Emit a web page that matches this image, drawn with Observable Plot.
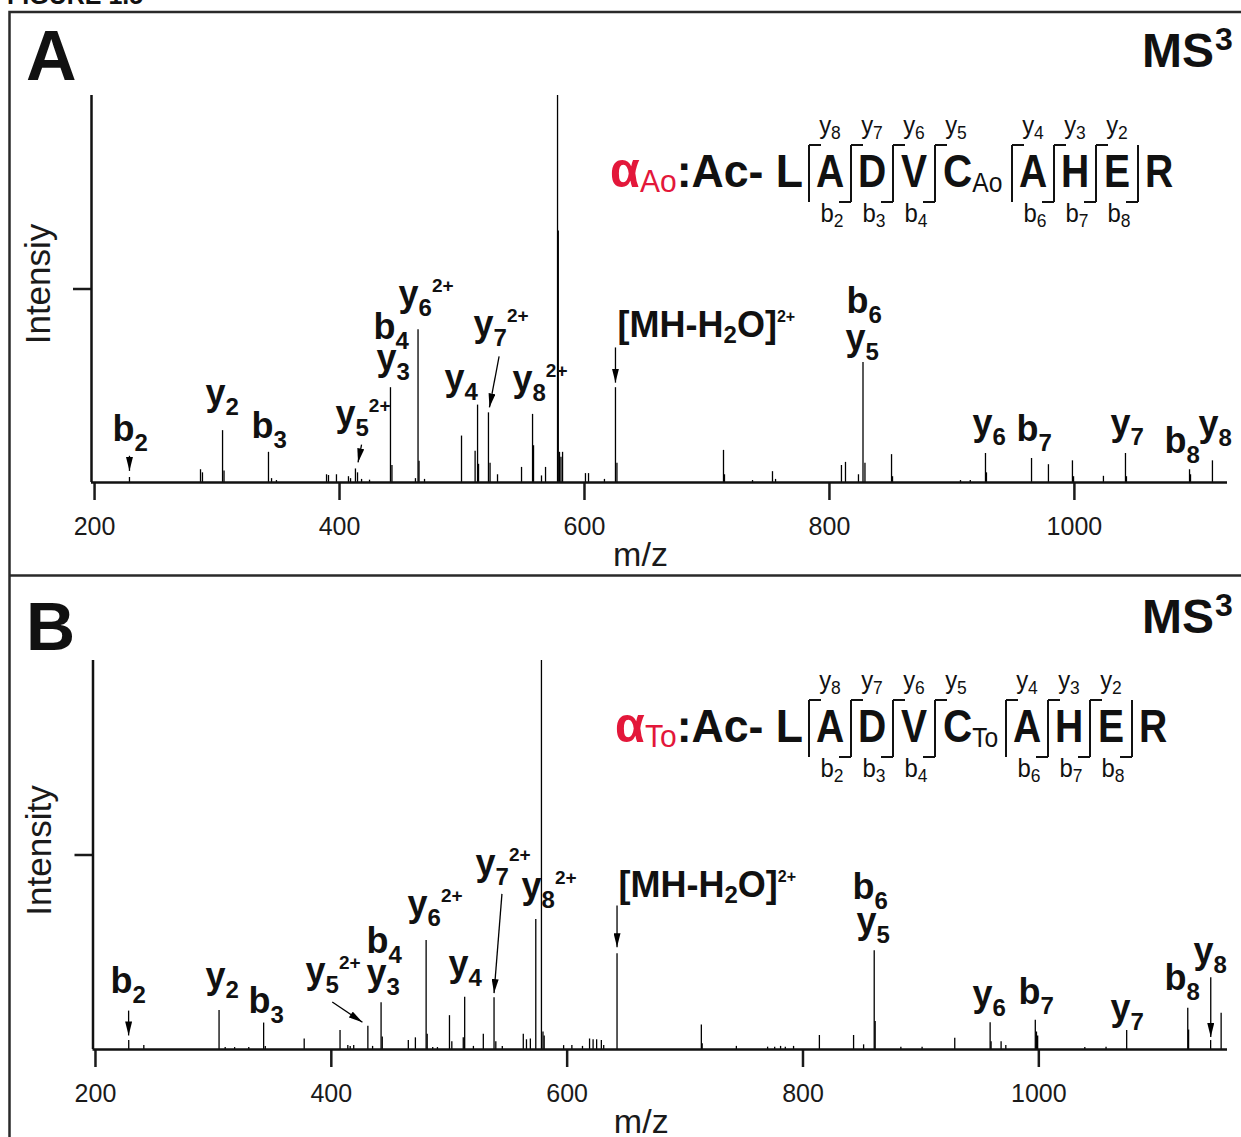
<!DOCTYPE html>
<html><head><meta charset="utf-8">
<script src="https://cdn.jsdelivr.net/npm/d3@7"></script>
<script src="https://cdn.jsdelivr.net/npm/@observablehq/plot@0.6"></script>
<style>
html,body{margin:0;padding:0;background:#fff;}
#fig{position:relative;width:1241px;height:1137px;overflow:hidden;background:#fff;}
#fig svg{position:absolute;left:0;}
</style></head><body><div id="fig"></div>
<script>
// ---------------- DATA ----------------
const xTicks = [200, 400, 600, 800, 1000];

// Panel A peaks: [m/z, relative intensity %]
const peaksA = [[228.5,1.3],[286.5,3.3],[288.1,2.5],[304.5,13.4],[305.7,3.0],[342.0,7.8],[344.5,1.0],[348.5,0.5],
[389.4,2.0],[391.0,1.8],[397.5,2.0],[407.3,1.5],[409.0,1.0],[413.0,3.5],[414.7,2.5],[418.0,0.8],[424.5,0.6],
[441.6,24.5],[442.8,4.4],[462.0,1.0],[464.1,39.5],[464.9,5.5],[469.4,0.8],[499.6,12.0],[510.7,8.1],[512.7,20.0],
[513.5,4.7],[521.6,18.0],[522.9,5.0],[529.0,2.0],[548.6,3.9],[557.6,17.6],[558.4,9.5],[564.9,1.7],[568.2,3.9],
[578.0,100],[578.6,65],[579.6,7.8],[580.8,6.5],[582.1,7.8],[600.8,2.3],[603.3,2.3],[616.3,0.8],[625.3,24.5],
[626.5,5.0],[713.5,8.3],[714.3,2.0],[737.2,0.5],[753.5,2.8],[756.0,0.8],[809.8,4.4],[813.1,5.2],[823.7,2.0],
[827.4,31.0],[829.0,5.0],[850.7,7.2],[851.5,1.5],[907.0,0.5],[915.0,0.5],[927.4,7.5],[928.2,2.5],[965.0,6.2],
[978.8,4.6],[998.4,5.6],[999.3,1.5],[1023.7,1.6],[1041.7,7.5],[1042.5,1.5],[1094.0,3.3],[1094.8,2.0],[1112.7,5.6]];

// Panel B peaks
const peaksB = [[228.2,2.3],[241,1.0],[304.8,10.0],[310,0.5],[318,0.5],[330,0.5],[342.6,6.8],[344,0.8],[377.0,2.7],
[407.4,4.9],[414,1.0],[416,0.8],[419,1.0],[431.0,6.0],[435,0.8],[442.2,12.0],[443.2,3.2],[465.3,2.3],[471.3,3.0],
[480.4,28.0],[481.3,3.9],[486,0.5],[490,0.5],[500.2,8.7],[502.2,2.0],[511.9,3.0],[513.1,13.4],[520.5,0.8],[528.9,3.9],
[538.0,13.3],[539.5,2.0],[545,0.8],[562.8,3.9],[565.5,2.5],[568.8,2.7],[573.4,33.4],[578.2,100],[579.5,4.5],[580.5,3.5],
[597,1.0],[604,1.0],[613,0.8],[619,2.7],[622,2.5],[625,2.5],[629,2.3],[631,1.0],[642.3,24.6],[713.8,6.3],[714.5,1.5],
[743.5,0.8],[770,0.6],[776,0.6],[781,0.8],[785,0.6],[792,0.8],[813.9,3.6],[842.9,3.6],[851.4,1.2],[860.4,25.4],
[861.2,7.2],[883,0.6],[901,0.6],[928.7,2.9],[958.7,6.9],[959.5,2.0],[968,2.0],[972,1.0],[997.0,7.5],[998.0,4.5],
[999.0,3.5],[1039,0.5],[1057,0.6],[1074.5,4.9],[1126.3,10.6],[1127,5.0],[1145.7,2.3],[1154.6,9.3]];

// Peak annotations: [label, m/z anchor, intensity anchor]  (_{} subscript, ^{} superscript)
const labelsA = [["b_{2}",214.6,10.85],["y_{2}",290.6,20.0],["b_{3}",328.1,11.4],["y_{5}^{2+}",396.7,14.6],
["b_{4}",427.7,37.2],["y_{3}",430.2,29.1],["y_{6}^{2+}",448.2,45.6],["y_{4}",485.7,23.9],["y_{7}^{2+}",509.4,37.9],
["y_{8}^{2+}",541.2,23.6],["[MH-H_{2}O]^{2+}",627.0,37.5],["b_{6}",813.9,43.7],["y_{5}",813.1,34.2],
["y_{6}",916.8,12.3],["b_{7}",952.7,10.85],["y_{7}",1029.5,12.3],["b_{8}",1073.6,7.75],["y_{8}",1101.3,11.9]];
const labelsB = [["b_{2}",212.7,14.4],["y_{2}",293.3,15.8],["b_{3}",329.8,9.5],["y_{5}^{2+}",378.1,17.1],
["b_{4}",429.8,24.7],["y_{3}",429.8,16.6],["y_{6}^{2+}",464.6,34.3],["y_{4}",499.4,18.9],["y_{7}^{2+}",522.3,44.9],
["y_{8}^{2+}",561.3,38.9],["[MH-H_{2}O]^{2+}",643.5,39.1],["b_{6}",842.0,38.8],["y_{5}",845.4,29.9],
["y_{6}",943.8,11.2],["b_{7}",982.8,11.8],["y_{7}",1060.8,7.6],["b_{8}",1106.6,15.2],["y_{8}",1131.2,22.2]];

// Arrows: [m/z start, int start, m/z tip, int tip]
const arrowsA = [[228.5,6.9,228.5,3.0],[418.0,9.8,415.1,5.2],[530.3,32.6,522.4,19.4],[625.3,34.9,625.3,25.8]];
const arrowsB = [[228.1,10.0,228.1,3.6],[400.8,12.2,426.4,7.0],[544.7,40.0,538.0,14.5],[642.3,37.0,642.3,26.3],[1145.8,18.6,1145.8,3.2]];

// Peptide sequence
const residues = ["L","A","D","V","C","A","H","E","R"];
const modResidue = 4;
const yIons = [8,7,6,5,4,3,2];
const bIons = [2,3,4,6,7,8];

// ---------------- LAYOUT ----------------
const W = 1241, H = 1137;
const FONT = '"Liberation Sans", Arial, Helvetica, sans-serif';
const RED = "#e3173a";
const fig = d3.select("#fig");

function parseMarkup(s) {
  const out = []; let buf = ""; let i = 0;
  while (i < s.length) {
    const c = s[i];
    if ((c === "_" || c === "^") && s[i + 1] === "{") {
      if (buf) { out.push({t: "n", s: buf}); buf = ""; }
      const j = s.indexOf("}", i);
      out.push({t: c === "_" ? "sub" : "sup", s: s.slice(i + 2, j)});
      i = j + 1;
    } else { buf += c; i++; }
  }
  if (buf) out.push({t: "n", s: buf});
  return out;
}

function richify(svg) {
  d3.select(svg).selectAll("text").each(function () {
    const s = this.textContent;
    if (!/[_^]\{/.test(s)) return;
    const isMH = s.startsWith("[");
    const o = isMH ? {subSize: 24, subDy: 6, supSize: 16, supDy: -15} : {subSize: 24, subDy: 10, supSize: 19, supDy: -14};
    const parts = parseMarkup(s);
    const t = d3.select(this); t.text(null);
    let cur = 0;
    for (const p of parts) {
      const target = p.t === "sub" ? o.subDy : p.t === "sup" ? o.supDy : 0;
      const ts = t.append("tspan").text(p.s);
      if (target - cur !== 0) ts.attr("dy", target - cur);
      if (p.t === "sub") ts.attr("font-size", o.subSize);
      if (p.t === "sup") ts.attr("font-size", o.supSize);
      cur = target;
    }
  });
}

function spectrum({peaks, labels, arrows, domain, yLabel, top, height, marginTop, marginBottom, marginLeft, yLabelDy, id}) {
  const peakData = peaks.map(([mz, i]) => ({mz, i}));
  const labelData = labels.map(([text, mz, i]) => ({text, mz, i}));
  const arrowData = arrows.map(([x1, y1, x2, y2]) => ({x1, y1, x2, y2}));
  const svg = Plot.plot({
    width: W, height, marginTop, marginBottom, marginLeft, marginRight: 14,
    style: {fontFamily: FONT, fontSize: "25px", color: "#1a1a1a", background: "transparent", overflow: "visible"},
    x: {domain, ticks: xTicks, tickFormat: "d", tickSize: 18, tickPadding: 17, label: null},
    y: {domain: [0, 100], ticks: [50], tickFormat: () => "", tickSize: 18, label: null},
    marks: [
      Plot.ruleX(peakData, {x: "mz", y1: 0, y2: "i", stroke: "#000", strokeWidth: 1.3}),
      Plot.ruleY([0], {stroke: "#111", strokeWidth: 2.5}),
      Plot.ruleX([domain[0]], {stroke: "#111", strokeWidth: 2.5}),
      Plot.link(arrowData, {x1: "x1", y1: "y1", x2: "x2", y2: "y2", stroke: "#000", strokeWidth: 1.3}),
      Plot.text(labelData, {x: "mz", y: "i", text: "text", textAnchor: "start", lineAnchor: "bottom", fontSize: 36, fontWeight: "bold", fill: "#111"}),
      Plot.text(["m/z"], {frameAnchor: "bottom", textAnchor: "middle", dx: -19, dy: 83, lineAnchor: "bottom", fontSize: 34, fill: "#1a1a1a"}),
      Plot.text([yLabel], {frameAnchor: "left", textAnchor: "middle", rotate: -90, dx: -53, dy: yLabelDy, lineAnchor: "middle", fontSize: 35, fill: "#1a1a1a"})
    ]
  });
  svg.style.top = top + "px";
  const s = d3.select(svg);
  s.selectAll('g[aria-label="x-axis tick"], g[aria-label="y-axis tick"]').attr("stroke-width", 2.5);
  s.selectAll('g[aria-label="x-axis tick"] path, g[aria-label="y-axis tick"] path').attr("stroke-width", 2.5);
  const defs = s.insert("defs", ":first-child");
  defs.append("marker").attr("id", "tri-" + id).attr("viewBox", "0 0 14 7").attr("refX", 14).attr("refY", 3.5)
    .attr("markerUnits", "userSpaceOnUse").attr("markerWidth", 14).attr("markerHeight", 7).attr("orient", "auto")
    .append("path").attr("d", "M0,0L14,3.5L0,7Z").attr("fill", "#000");
  s.selectAll('g[aria-label="link"] path').attr("marker-end", `url(#tri-${id})`);
  richify(svg);
  return svg;
}

const svgA = spectrum({peaks: peaksA, labels: labelsA, arrows: arrowsA, domain: [197.5, 1125], yLabel: "Intensiy",
  top: 0, height: 575, marginTop: 95, marginBottom: 93, marginLeft: 91, yLabelDy: -5, id: "a"});
const svgB = spectrum({peaks: peaksB, labels: labelsB, arrows: arrowsB, domain: [197.9, 1160], yLabel: "Intensity",
  top: 575, height: 562, marginTop: 85, marginBottom: 88, marginLeft: 92.5, yLabelDy: -4.5, id: "b"});
fig.node().appendChild(svgA);
fig.node().appendChild(svgB);

// ---------------- OVERLAY: frame, panel letters, sequence ----------------
const ov = fig.append("svg").attr("width", W).attr("height", H).style("top", "0px")
  .style("font-family", FONT).style("pointer-events", "none");
ov.append("text").attr("x", 7).attr("y", 3.5).attr("font-size", 25).attr("font-weight", "bold").attr("fill", "#111").text("FIGURE 1.5");
ov.append("path").attr("d", `M${W},12H9.5V${H}M9.5,575.5H${W}`).attr("fill", "none").attr("stroke", "#2a2a2a").attr("stroke-width", 2.5);

function panelHeader(letter, letterBase, letterSize, msBase) {
  ov.append("text").attr("x", 26).attr("y", letterBase).attr("font-size", letterSize).attr("font-weight", "bold").attr("fill", "#111").text(letter);
  const t = ov.append("text").attr("x", 1142).attr("y", msBase).attr("font-size", 48).attr("font-weight", "bold").attr("fill", "#111");
  t.append("tspan").text("MS");
  t.append("tspan").attr("font-size", 32).attr("dx", 1).attr("dy", -17).text("3");
}
panelHeader("A", 80, 70, 67);
panelHeader("B", 650, 68, 633);

function drawSeq(base, tag, modW) {
  const g = ov.append("g").attr("fill", "#111");
  const sites = [809];
  for (let k = 1; k < residues.length - 1; ++k) sites.push(sites[k - 1] + (k === modResidue ? modW : 42));
  // prefix  α_tag : Ac- L
  const pre = g.append("text").attr("transform", `translate(${sites[0] - 6},${base}) scale(0.97,1)`)
    .attr("text-anchor", "end").attr("font-size", 46).attr("font-weight", "bold");
  pre.append("tspan").attr("fill", RED).attr("font-size", 50).text("α");
  pre.append("tspan").attr("fill", RED).attr("font-size", 31).attr("font-weight", "normal").attr("dy", 5).text(tag);
  pre.append("tspan").attr("dy", -5).text(":Ac- " + residues[0]);
  // residues between sites
  for (let k = 1; k < residues.length; ++k) {
    const left = sites[k - 1];
    if (k === modResidue) {
      const t = g.append("text").attr("transform", `translate(${left + 8},${base}) scale(0.88,1)`)
        .attr("font-size", 46).attr("font-weight", "bold");
      t.append("tspan").text(residues[k]);
      t.append("tspan").attr("font-size", 28).attr("font-weight", "normal").attr("dy", 5).text(tag);
    } else {
      const cx = k < residues.length - 1 ? (left + sites[k]) / 2 : left + 21;
      g.append("text").attr("transform", `translate(${cx},${base}) scale(0.85,1)`)
        .attr("text-anchor", "middle").attr("font-size", 46).attr("font-weight", "bold").text(residues[k]);
    }
  }
  // cleavage brackets and ion labels
  const nRes = residues.length;
  sites.forEach((x, k) => {
    const yNum = nRes - 1 - k, bNum = k + 1;
    const hasY = yIons.includes(yNum), hasB = bIons.includes(bNum);
    let d = `M${x},${base - 42}V${base + 15}`;
    if (hasY) d += `M${x},${base - 42}H${x + 12}`;
    if (hasB) d += `M${x},${base + 15}H${x - 12}`;
    g.append("path").attr("d", d).attr("fill", "none").attr("stroke", "#111").attr("stroke-width", 2);
    if (hasY) {
      const t = g.append("text").attr("transform", `translate(${x + 21},${base - 53}) scale(0.92,1)`)
        .attr("text-anchor", "middle").attr("font-size", 26);
      t.append("tspan").text("y");
      t.append("tspan").attr("font-size", 19).attr("dy", 5).text(yNum);
    }
    if (hasB) {
      const t = g.append("text").attr("transform", `translate(${x - 19},${base + 35}) scale(0.92,1)`)
        .attr("text-anchor", "middle").attr("font-size", 26);
      t.append("tspan").text("b");
      t.append("tspan").attr("font-size", 19).attr("dy", 5).text(bNum);
    }
  });
}
drawSeq(187, "Ao", 77);
drawSeq(742, "To", 71);
</script></body></html>
